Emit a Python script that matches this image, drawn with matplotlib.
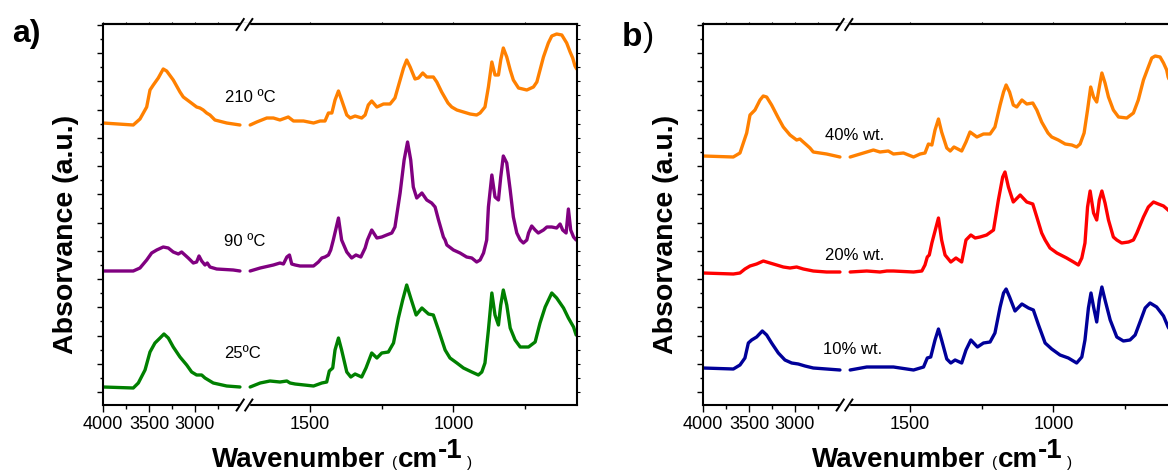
import matplotlib
matplotlib.use('Agg')
import matplotlib.pyplot as plt
from matplotlib.ticker import FixedLocator, MultipleLocator
from matplotlib.lines import Line2D
from matplotlib.patches import Rectangle

plt.rcParams['font.family'] = ['Liberation Sans', 'DejaVu Sans']

# ---- data: wavenumber (cm-1) / absorbance (a.u., stacked) ----
# panel a, high-wavenumber part (4000-2500) and fingerprint part (1750-570)
wn_210_hi = [4000, 3671, 3598, 3525, 3489, 3453, 3399, 3345, 3308, 3236, 3163, 3127, 3054, 2982, 2946, 2910, 2873, 2837, 2783, 2655, 2511]
ab_210_hi = [269, 267, 273, 285, 302, 307, 314, 323, 321, 312, 300, 295, 290, 285, 284, 282, 279, 277, 272, 269, 267]
wn_210_lo = [1709, 1686, 1651, 1628, 1605, 1576, 1558, 1523, 1488, 1465, 1448, 1436, 1424, 1413, 1401, 1390, 1372, 1360, 1343, 1320,
             1308, 1297, 1285, 1267, 1244, 1221, 1204, 1186, 1174, 1163, 1151, 1134, 1122, 1107, 1093, 1070, 1058, 1041, 1019, 1006,
             988, 965, 942, 919, 907, 890, 878, 866, 855, 843, 835, 826, 814, 802, 791, 773, 744, 721, 709, 686,
             669, 657, 640, 622, 605, 593, 584, 576, 570]
ab_210_lo = [267, 270, 274, 274, 272, 275, 271, 271, 269, 271, 271, 279, 279, 292, 301, 292, 277, 274, 276, 274,
             277, 287, 291, 285, 288, 288, 294, 312, 324, 332, 325, 313, 314, 319, 315, 315, 310, 300, 289, 285,
             282, 280, 278, 277, 279, 285, 305, 330, 317, 317, 332, 344, 335, 322, 312, 304, 302, 305, 310, 335,
             349, 356, 358, 357, 349, 340, 334, 326, 323]

wn_90_hi = [4000, 3671, 3598, 3525, 3471, 3416, 3345, 3290, 3236, 3181, 3145, 3109, 3073, 3018, 2982, 2956, 2927, 2891, 2866, 2837, 2764, 2584, 2511]
ab_90_hi = [121, 121, 124, 132, 139, 142, 145, 144, 140, 138, 140, 137, 134, 129, 130, 136, 131, 127, 129, 125, 123, 122, 121]
wn_90_lo = [1709, 1674, 1628, 1605, 1593, 1581, 1572, 1564, 1552, 1535, 1488, 1471, 1459, 1448, 1436, 1428, 1419, 1401, 1390, 1372,
            1355, 1340, 1323, 1308, 1300, 1285, 1267, 1250, 1233, 1215, 1204, 1186, 1172, 1160, 1149, 1140, 1128, 1110, 1093, 1076,
            1064, 1052, 1035, 1029, 1023, 1000, 977, 954, 936, 919, 907, 895, 884, 878, 866, 855, 843, 835, 826, 814,
            802, 791, 779, 767, 756, 744, 738, 727, 715, 704, 686, 674, 657, 640, 628, 619, 607, 599, 591, 581, 572]
ab_90_lo = [121, 124, 127, 129, 128, 135, 137, 128, 127, 126, 126, 130, 134, 135, 137, 142, 152, 174, 152, 140,
            134, 137, 135, 144, 152, 162, 154, 155, 157, 159, 165, 199, 232, 250, 232, 205, 194, 199, 192, 189,
            185, 172, 155, 152, 147, 142, 139, 135, 134, 130, 132, 139, 152, 185, 217, 195, 192, 215, 236, 229,
            202, 175, 159, 152, 149, 152, 159, 166, 162, 159, 162, 165, 165, 164, 168, 162, 159, 183, 162, 155, 152]

wn_25_hi = [4000, 3671, 3616, 3543, 3489, 3435, 3380, 3337, 3290, 3236, 3163, 3090, 3036, 2982, 2927, 2891, 2801, 2655, 2511]
ab_25_hi = [5, 4, 9, 22, 40, 49, 54, 58, 54, 45, 35, 27, 20, 17, 17, 14, 9, 6, 5]
wn_25_lo = [1709, 1674, 1640, 1605, 1581, 1570, 1552, 1488, 1459, 1442, 1433, 1421, 1413, 1401, 1390, 1372, 1358, 1343, 1320, 1305,
            1285, 1267, 1250, 1227, 1209, 1192, 1177, 1163, 1149, 1130, 1110, 1087, 1070, 1052, 1029, 1012, 988, 965, 936, 913,
            901, 890, 878, 866, 855, 843, 835, 826, 814, 802, 785, 767, 738, 715, 698, 680, 657, 640, 616, 599, 581, 572]
ab_25_lo = [5, 9, 11, 10, 11, 9, 8, 6, 9, 10, 21, 24, 42, 54, 42, 20, 15, 18, 15, 24,
            39, 34, 39, 40, 49, 74, 92, 107, 94, 77, 84, 78, 77, 62, 42, 34, 29, 24, 20, 17,
            20, 29, 62, 99, 77, 67, 87, 102, 87, 64, 52, 45, 45, 50, 69, 85, 99, 94, 84, 74, 65, 57]

# panel b
wn_40_hi = [4000, 3671, 3598, 3525, 3489, 3435, 3380, 3345, 3308, 3254, 3181, 3127, 3054, 2982, 2946, 2910, 2873, 2837, 2801, 2656, 2511]
ab_40_hi = [236, 235, 239, 259, 277, 282, 292, 296, 295, 287, 274, 265, 257, 252, 253, 250, 247, 244, 240, 238, 235]
wn_40_lo = [1709, 1651, 1628, 1605, 1576, 1558, 1523, 1488, 1465, 1448, 1436, 1424, 1413, 1401, 1390, 1372, 1360, 1347, 1320, 1305,
            1291, 1267, 1244, 1221, 1204, 1186, 1174, 1165, 1153, 1140, 1128, 1110, 1093, 1072, 1058, 1041, 1019, 1006, 983, 959,
            936, 919, 907, 893, 881, 870, 860, 849, 840, 831, 820, 808, 791, 773, 744, 721, 704, 686, 669, 657,
            645, 628, 616, 605, 600, 585, 570]
ab_40_lo = [235, 240, 242, 240, 241, 238, 239, 235, 238, 239, 248, 247, 262, 273, 260, 244, 241, 245, 241, 250,
            260, 255, 258, 258, 265, 287, 300, 307, 300, 287, 285, 292, 288, 289, 282, 270, 259, 255, 252, 248,
            247, 245, 248, 259, 282, 305, 295, 290, 305, 319, 309, 295, 282, 275, 274, 279, 292, 312, 325, 334,
            336, 335, 329, 322, 315, 305, 298]

wn_20_hi = [4000, 3670, 3598, 3544, 3489, 3417, 3344, 3272, 3199, 3127, 3054, 2982, 2909, 2801, 2656, 2511]
ab_20_hi = [119, 118, 119, 123, 126, 128, 131, 129, 127, 125, 124, 125, 123, 121, 120, 120]
wn_20_lo = [1709, 1651, 1605, 1581, 1558, 1488, 1459, 1448, 1440, 1433, 1424, 1401, 1390, 1378, 1358, 1340, 1320, 1305, 1288, 1273,
            1256, 1233, 1209, 1192, 1177, 1169, 1157, 1140, 1116, 1093, 1072, 1058, 1041, 1029, 1012, 988, 954, 930, 913, 901,
            890, 881, 872, 860, 849, 840, 831, 820, 808, 791, 779, 762, 738, 721, 709, 686, 669, 651, 634, 616,
            600, 585, 570]
ab_20_lo = [120, 121, 120, 121, 121, 120, 121, 127, 135, 137, 149, 174, 152, 137, 130, 134, 130, 152, 157, 154,
            155, 157, 162, 192, 215, 220, 205, 190, 197, 190, 188, 175, 159, 152, 144, 139, 134, 130, 127, 134,
            149, 185, 201, 179, 172, 192, 201, 189, 172, 155, 152, 149, 150, 152, 159, 175, 185, 190, 188, 186,
            182, 178, 172]

wn_10_hi = [4000, 3670, 3598, 3544, 3507, 3471, 3417, 3355, 3308, 3254, 3181, 3109, 3036, 2964, 2891, 2801, 2656, 2511]
ab_10_hi = [24, 23, 27, 34, 49, 52, 55, 61, 57, 49, 39, 32, 29, 28, 26, 24, 23, 22]
wn_10_lo = [1709, 1651, 1605, 1558, 1488, 1453, 1440, 1428, 1413, 1401, 1390, 1372, 1358, 1343, 1320, 1305, 1288, 1265, 1244, 1221,
            1204, 1186, 1174, 1165, 1153, 1134, 1110, 1087, 1070, 1052, 1029, 1006, 977, 948, 919, 901, 890, 878, 869, 860,
            849, 840, 831, 820, 802, 779, 756, 733, 715, 698, 680, 663, 640, 616, 600, 585, 570]
ab_10_lo = [22, 25, 25, 25, 22, 25, 34, 35, 52, 63, 52, 33, 29, 32, 29, 42, 52, 45, 49, 50,
            59, 85, 99, 103, 95, 81, 88, 84, 82, 67, 49, 43, 37, 34, 29, 35, 52, 84, 99, 85,
            70, 92, 105, 92, 72, 55, 51, 52, 57, 70, 84, 89, 85, 76, 65, 58, 52]

labels_a = ['210 ºC', '90 ºC', '25ºC']
labels_b = ['40% wt.', '20% wt.', '10% wt.']

# ---- figure ----
W, H = 1168, 472
fig = plt.figure(figsize=(W / 100, H / 100), dpi=100)


def px_axes(x0, x1, y0, y1):
    return fig.add_axes([x0 / W, 1 - y1 / H, (x1 - x0) / W, (y1 - y0) / H])


def style_axes(ax, side):
    ax.set_ylim(-13, 368)
    ax.yaxis.set_major_locator(MultipleLocator(28.25))
    ax.yaxis.set_minor_locator(MultipleLocator(14.125))
    for s in ax.spines.values():
        s.set_linewidth(1.5)
    ax.tick_params(axis='x', which='both', direction='out', width=1.0, labelsize=13, pad=3, top=False)
    ax.tick_params(axis='x', which='major', length=5)
    ax.tick_params(axis='x', which='minor', length=3)
    if side == 'left':
        ax.spines['right'].set_visible(False)
        ax.tick_params(axis='y', which='both', left=True, right=False, labelleft=False, direction='out', width=1.0)
        ax.tick_params(axis='y', which='major', length=4.5)
        ax.tick_params(axis='y', which='minor', length=2.3)
    else:
        ax.spines['left'].set_visible(False)
        ax.tick_params(axis='y', which='both', left=False, right=True, labelleft=False, labelright=False,
                       direction='out', width=0.8, length=1.8)
    sec = ax.secondary_xaxis('top')
    sec.set_xticks(ax.get_xticks(minor=False))
    sec.set_xticks(ax.get_xticks(minor=True), minor=True)
    sec.tick_params(which='both', length=1.8, width=0.8, labeltop=False, direction='out')
    sec.spines['top'].set_linewidth(1.5)


def break_mark(xc, yc):
    fig.add_artist(Rectangle(((xc - 4.5) / W, 1 - (yc + 2) / H), 9 / W, 4 / H,
                             transform=fig.transFigure, color='white', zorder=5))
    for dx in (-4.3, 4.3):
        fig.add_artist(Line2D([(xc + dx - 3.6) / W, (xc + dx + 3.6) / W],
                              [1 - (yc + 5.5) / H, 1 - (yc - 5.5) / H],
                              transform=fig.transFigure, color='black', lw=1.4, zorder=6))


def pieces(x0, base, items):
    r = fig.canvas.get_renderer()
    x = x0
    for s, size, weight, rise, gap in items:
        x += gap
        t = fig.text(x / W, 1 - (base - rise) / H, s, fontsize=size, fontweight=weight,
                     ha='left', va='baseline')
        x += t.get_window_extent(renderer=r).width


def make_panel(ox, series, labels, label_pos):
    ax_hi = px_axes(103 + ox, 245 + ox, 24, 405)
    ax_lo = px_axes(245 + ox, 577 + ox, 24, 405)
    ax_hi.set_xlim(4000, 2456)
    ax_lo.set_xlim(1727, 569)
    ax_hi.xaxis.set_major_locator(FixedLocator([4000, 3500, 3000]))
    ax_hi.xaxis.set_minor_locator(FixedLocator([3750, 3250, 2750]))
    ax_lo.xaxis.set_major_locator(FixedLocator([1500, 1000]))
    ax_lo.xaxis.set_minor_locator(FixedLocator([1250, 750]))
    style_axes(ax_hi, 'left')
    style_axes(ax_lo, 'right')
    for wh, ah, wl, al, c in series:
        ax_hi.plot(wh, ah, color=c, lw=2.4, solid_joinstyle='round', solid_capstyle='round')
        ax_lo.plot(wl, al, color=c, lw=2.4, solid_joinstyle='round', solid_capstyle='round')
    for txt, (xw, yv) in zip(labels, label_pos):
        ax_lo.text(xw, yv, txt, fontsize=12, ha='center', va='center')
    break_mark(244.5 + ox, 24.5)
    break_mark(244.5 + ox, 405)
    # y label
    fig.text((66 + ox) / W, 1 - 234 / H, 'Absorvance (a.u.)', rotation=90, fontsize=20.5,
             fontweight='bold', ha='center', va='center')
    # x label
    pieces(212 + ox, 467, [('Wavenumber', 20, 'bold', 0, 0),
                           ('(', 11, 'normal', 0, 7),
                           ('cm', 20, 'bold', 0, 0),
                           ('-1', 20, 'bold', 9, 0),
                           (')', 11, 'normal', 0, 5)])
    return ax_hi, ax_lo


make_panel(0,
           [(wn_210_hi, ab_210_hi, wn_210_lo, ab_210_lo, '#FF8000'),
            (wn_90_hi, ab_90_hi, wn_90_lo, ab_90_lo, '#800080'),
            (wn_25_hi, ab_25_hi, wn_25_lo, ab_25_lo, '#008000')],
           labels_a, [(1709, 295), (1727, 151), (1737, 39)])

make_panel(600,
           [(wn_40_hi, ab_40_hi, wn_40_lo, ab_40_lo, '#FF8000'),
            (wn_20_hi, ab_20_hi, wn_20_lo, ab_20_lo, '#FF0000'),
            (wn_10_hi, ab_10_hi, wn_10_lo, ab_10_lo, '#000099')],
           labels_b, [(1695, 257), (1695, 136), (1702, 43)])

fig.text(12 / W, 1 - 42 / H, 'a)', fontsize=23, fontweight='bold', ha='left', va='baseline')
pieces(622, 46, [('b', 24, 'bold', 0, 0), (')', 24, 'normal', 0, 0)])

fig.savefig('out.png', dpi=100)
